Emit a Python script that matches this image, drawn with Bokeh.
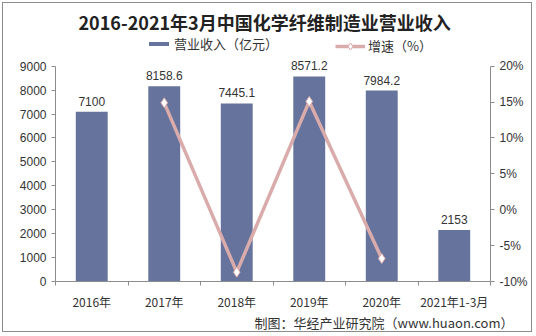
from bokeh.plotting import figure
from bokeh.models import (Range1d, LinearAxis, FixedTicker, PrintfTickFormatter,
                          ColumnDataSource, LabelSet, Legend, LegendItem, Title)
from bokeh.core.properties import value
from bokeh.embed import file_html
from bokeh.resources import INLINE

categories = ["2016年", "2017年", "2018年", "2019年", "2020年", "2021年1-3月"]
revenue = [7100, 8158.6, 7445.1, 8571.2, 7984.2, 2153]
revenue_labels = ["7100", "8158.6", "7445.1", "8571.2", "7984.2", "2153"]
growth_cats = ["2017年", "2018年", "2019年", "2020年"]
growth = [14.9, -8.7, 15.1, -6.8]
left_ticks = [0, 1000, 2000, 3000, 4000, 5000, 6000, 7000, 8000, 9000]
right_ticks = [-10, -5, 0, 5, 10, 15, 20]

BAR = "#66739c"
LINE = "#d9abab"
TXT = "#333333"
AX = "#8c8c8c"
FONT = "Liberation Sans"
CJK = "Noto Sans CJK SC"

xs = [i + 0.5 for i in range(len(categories))]
gx = [categories.index(c) + 0.5 for c in growth_cats]

# frame spans 249 px; value axes cover the lower 217 px (headroom for the legend)
HEAD = 249.0 / 217.0
p = figure(width=530, height=330, output_backend="svg", toolbar_location=None,
           x_range=Range1d(0, len(categories)),
           y_range=Range1d(0, left_ticks[-1] * HEAD),
           min_border_left=52, min_border_right=43, min_border_top=31, min_border_bottom=50)
p.styles = {"margin": "2px", "border": "1px solid #8c8c8c"}
p.extra_y_ranges = {"pct": Range1d(right_ticks[0],
                                   right_ticks[0] + (right_ticks[-1] - right_ticks[0]) * HEAD)}
p.outline_line_color = None
p.grid.visible = False
p.background_fill_color = "white"
p.border_fill_color = "white"

src = ColumnDataSource(dict(x=xs, top=revenue, lab=revenue_labels))
bars = p.vbar(x="x", top="top", width=0.44, source=src, fill_color=BAR, line_color=None)
p.add_layout(LabelSet(x="x", y="top", text="lab", source=src, text_align="center",
                      text_baseline="bottom", y_offset=6, text_font_size=value("12px"),
                      text_color=value(TXT), text_font=value(FONT)))

lr = p.line(gx, growth, y_range_name="pct", line_color=LINE, line_width=3.5)
sr = p.scatter(gx, growth, y_range_name="pct", marker="diamond", size=10,
               fill_color="white", line_color=LINE, line_width=1)

# x axis
xa = p.xaxis[0]
xa.ticker = FixedTicker(ticks=xs, minor_ticks=list(range(len(categories) + 1)))
xa.major_label_overrides = {x: c for x, c in zip(xs, categories)}
xa.major_tick_line_color = None
xa.minor_tick_line_color = AX
xa.minor_tick_in = 0
xa.minor_tick_out = 4
xa.axis_line_color = AX
xa.major_label_text_font_size = "12px"
xa.major_label_text_color = TXT
xa.major_label_text_font = CJK
xa.major_label_standoff = 5

ya = p.yaxis[0]
ya.ticker = FixedTicker(ticks=left_ticks)
ya.bounds = (left_ticks[0], left_ticks[-1])
ya.axis_line_color = AX
ya.major_tick_line_color = AX
ya.major_tick_in = 0
ya.major_tick_out = 4
ya.minor_tick_line_color = None
ya.major_label_text_font_size = "12px"
ya.major_label_text_color = TXT
ya.major_label_text_font = FONT

ra = LinearAxis(y_range_name="pct", ticker=FixedTicker(ticks=right_ticks),
                formatter=PrintfTickFormatter(format="%d%%"),
                bounds=(right_ticks[0], right_ticks[-1]))
ra.axis_line_color = AX
ra.major_tick_line_color = AX
ra.major_tick_in = 0
ra.major_tick_out = 4
ra.minor_tick_line_color = None
ra.major_label_text_font_size = "12px"
ra.major_label_text_color = TXT
ra.major_label_text_font = FONT
p.add_layout(ra, "right")

# legends (inside the frame headroom)
leg1 = Legend(items=[LegendItem(label="营业收入（亿元）", renderers=[bars])],
              location=(91, 228), padding=0, margin=0, glyph_width=25, glyph_height=5,
              label_height=14, label_standoff=3,
              label_text_font=CJK, label_text_font_size="13px", label_text_color=TXT,
              border_line_color=None, background_fill_alpha=0)
leg2 = Legend(items=[LegendItem(label="增速（%）", renderers=[lr, sr])],
              location=(280, 226), padding=0, margin=0, glyph_width=30, glyph_height=18,
              label_height=18, label_standoff=3,
              label_text_font=CJK, label_text_font_size="13px", label_text_color=TXT,
              border_line_color=None, background_fill_alpha=0)
p.add_layout(leg1, "center")
p.add_layout(leg2, "center")

title = Title(text="2016-2021年3月中国化学纤维制造业营业收入", align="left", offset=23,
              standoff=0, text_font=CJK, text_font_size="18px", text_font_style="bold",
              text_color="#222222")
p.add_layout(title, "above")

footer = Title(text="制图：华经产业研究院（www.huaon.com）", align="right", offset=-23,
               standoff=0, vertical_align="top", text_font=CJK, text_font_size="13px",
               text_font_style="normal", text_color=TXT)
p.add_layout(footer, "below")

open("out.html", "w").write(file_html(p, INLINE))
